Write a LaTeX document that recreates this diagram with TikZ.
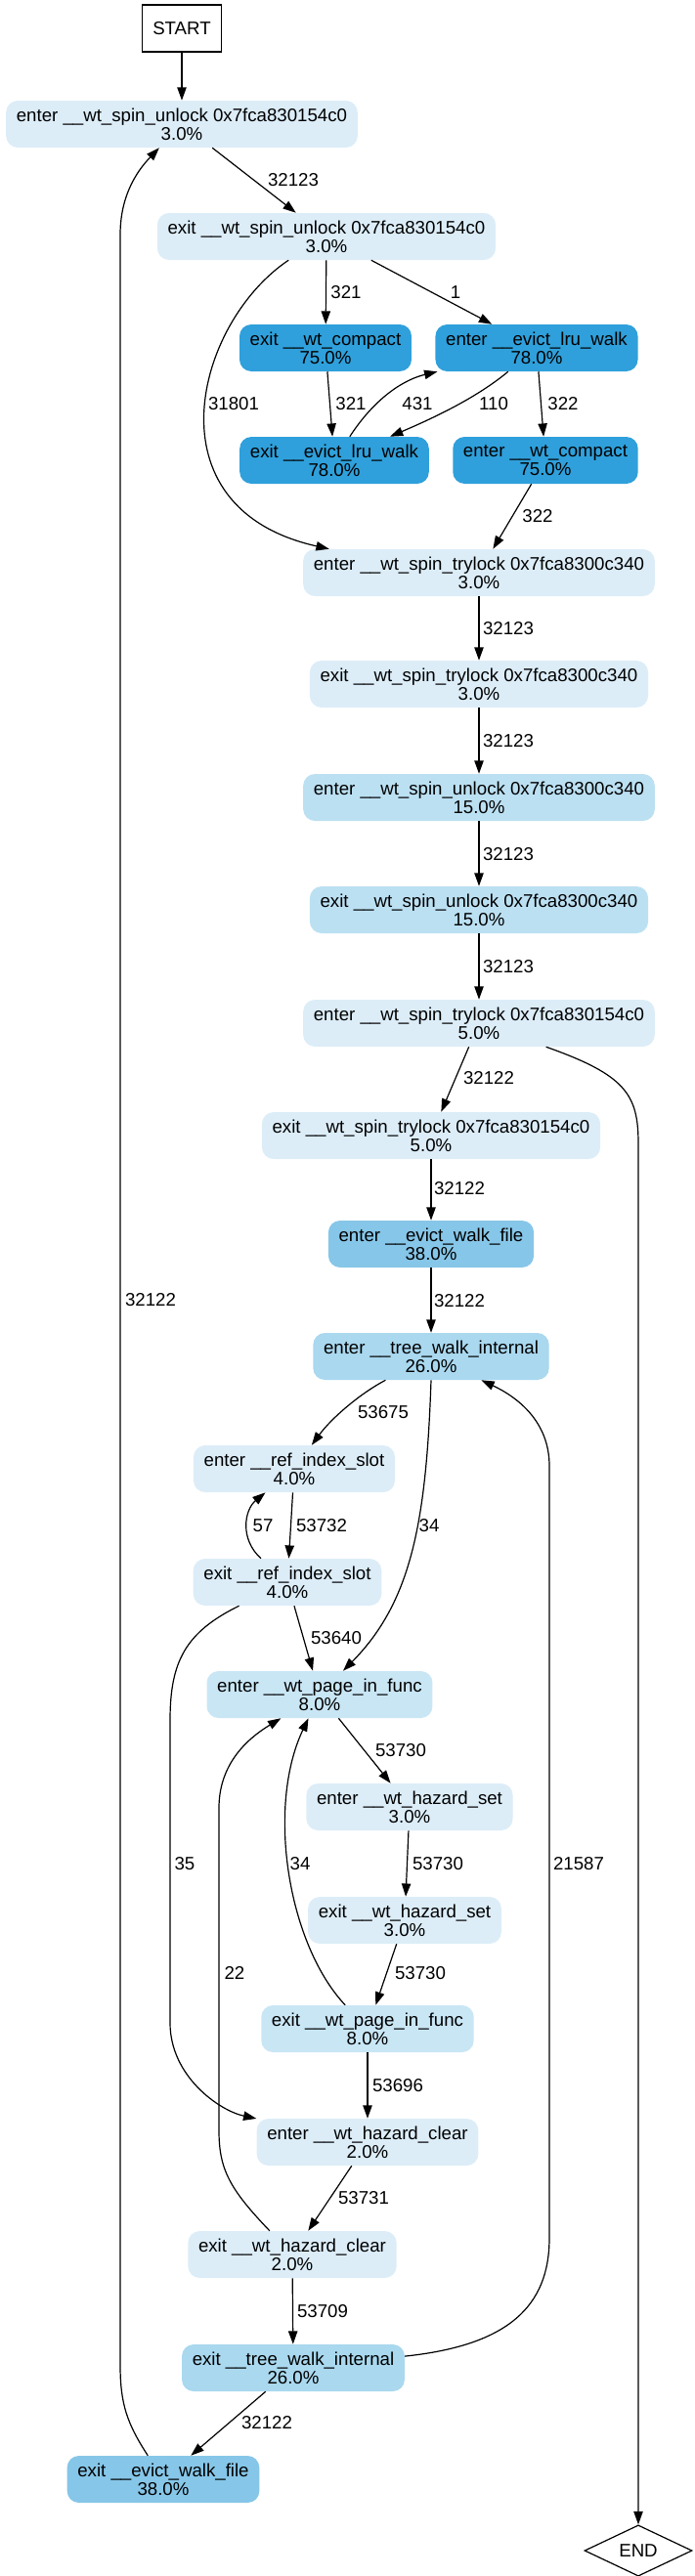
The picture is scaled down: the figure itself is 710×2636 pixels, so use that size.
\documentclass[tikz,border=0pt]{standalone}
\usepackage{fontspec}
\setmainfont{Liberation Sans}
\usetikzlibrary{arrows.meta,shapes.geometric}
\definecolor{lowheat}{HTML}{DCEDF8}
\definecolor{pageheat}{HTML}{C9E6F5}
\definecolor{lockheat}{HTML}{BBE0F2}
\definecolor{walkheat}{HTML}{A9D8EF}
\definecolor{fileheat}{HTML}{86C6E8}
\definecolor{lruheat}{HTML}{2FA0DB}
\begin{document}
\begin{tikzpicture}[x=0.75bp, y=-0.75bp,
    fnbox/.style={rounded corners=9bp, inner xsep=8bp, inner ysep=2bp, minimum height=36bp, align=center, font=\fontsize{14bp}{14bp}\selectfont},
    flow/.style={-{Triangle[length=10bp,width=7bp]}, line width=0.9bp},
    lbl/.style={inner sep=0pt, font=\fontsize{14bp}{14bp}\selectfont}]
    \useasboundingbox (0,0) rectangle (710,2636);
    \node[draw, line width=0.9bp, minimum width=60.75bp, minimum height=36bp, font=\fontsize{14bp}{14bp}\selectfont] (start) at (186,29) {START};
    \node[fnbox, fill=lowheat] (su0) at (186,127) {enter \_\_wt\_spin\_unlock 0x7fca830154c0\\3.0\%};
    \node[fnbox, fill=lowheat] (xsu0) at (334,242) {exit \_\_wt\_spin\_unlock 0x7fca830154c0\\3.0\%};
    \node[fnbox, fill=lruheat] (xcomp) at (333,356) {exit \_\_wt\_compact\\75.0\%};
    \node[fnbox, fill=lruheat] (elru) at (549,356) {enter \_\_evict\_lru\_walk\\78.0\%};
    \node[fnbox, fill=lruheat] (xlru) at (342,471) {exit \_\_evict\_lru\_walk\\78.0\%};
    \node[fnbox, fill=lruheat] (ecomp) at (558,471) {enter \_\_wt\_compact\\75.0\%};
    \node[fnbox, fill=lowheat] (etl1) at (490,586) {enter \_\_wt\_spin\_trylock 0x7fca8300c340\\3.0\%};
    \node[fnbox, fill=lowheat] (xtl1) at (490,700) {exit \_\_wt\_spin\_trylock 0x7fca8300c340\\3.0\%};
    \node[fnbox, fill=lockheat] (esu1) at (490,816) {enter \_\_wt\_spin\_unlock 0x7fca8300c340\\15.0\%};
    \node[fnbox, fill=lockheat] (xsu1) at (490,931) {exit \_\_wt\_spin\_unlock 0x7fca8300c340\\15.0\%};
    \node[fnbox, fill=lowheat] (etl0) at (490,1047) {enter \_\_wt\_spin\_trylock 0x7fca830154c0\\5.0\%};
    \node[fnbox, fill=lowheat] (xtl0) at (441,1162) {exit \_\_wt\_spin\_trylock 0x7fca830154c0\\5.0\%};
    \node[fnbox, fill=fileheat] (ewf) at (441,1273) {enter \_\_evict\_walk\_file\\38.0\%};
    \node[fnbox, fill=walkheat] (etw) at (441,1388) {enter \_\_tree\_walk\_internal\\26.0\%};
    \node[fnbox, fill=lowheat] (eref) at (301,1503) {enter \_\_ref\_index\_slot\\4.0\%};
    \node[fnbox, fill=lowheat] (xref) at (294,1619) {exit \_\_ref\_index\_slot\\4.0\%};
    \node[fnbox, fill=pageheat] (epg) at (327,1734) {enter \_\_wt\_page\_in\_func\\8.0\%};
    \node[fnbox, fill=lowheat] (ehs) at (419,1849) {enter \_\_wt\_hazard\_set\\3.0\%};
    \node[fnbox, fill=lowheat] (xhs) at (414,1965) {exit \_\_wt\_hazard\_set\\3.0\%};
    \node[fnbox, fill=pageheat] (xpg) at (376,2076) {exit \_\_wt\_page\_in\_func\\8.0\%};
    \node[fnbox, fill=lowheat] (ehc) at (376,2192) {enter \_\_wt\_hazard\_clear\\2.0\%};
    \node[fnbox, fill=lowheat] (xhc) at (299,2307) {exit \_\_wt\_hazard\_clear\\2.0\%};
    \node[fnbox, fill=walkheat] (xtw) at (300,2423) {exit \_\_tree\_walk\_internal\\26.0\%};
    \node[fnbox, fill=fileheat] (xwf) at (167,2537) {exit \_\_evict\_walk\_file\\38.0\%};
    \node[draw, diamond, line width=0.9bp, inner sep=0pt, minimum width=82.5bp, minimum height=36bp, font=\fontsize{14bp}{14bp}\selectfont] (fin) at (653,2610) {END};
    \draw[flow] (start) -- (su0);
    \draw[flow] (su0) -- (xsu0) node[lbl] at (300,184) {32123};
    \draw[flow] (xsu0) -- (xcomp) node[lbl] at (354,299) {321};
    \draw[flow] (xsu0) -- (elru) node[lbl] at (466,299) {1};
    \draw[flow] (xsu0.212) .. controls (200,330) and (150,520) .. (etl1.171) node[lbl] at (239,413) {31801};
    \draw[flow] (xcomp) -- (xlru) node[lbl] at (359,413) {321};
    \draw[flow] (xlru) .. controls (385,405) and (415,388) .. (elru) node[lbl] at (427,413) {431};
    \draw[flow] (elru) .. controls (490,405) and (450,425) .. (xlru) node[lbl] at (505,413) {110};
    \draw[flow] (elru) -- (ecomp) node[lbl] at (576,413) {322};
    \draw[flow] (ecomp) -- (etl1) node[lbl] at (550,528) {322};
    \draw[flow] (etl1) -- (xtl1) node[lbl] at (520,643) {32123};
    \draw[flow] (xtl1) -- (esu1) node[lbl] at (520,758) {32123};
    \draw[flow] (esu1) -- (xsu1) node[lbl] at (520,874) {32123};
    \draw[flow] (xsu1) -- (etl0) node[lbl] at (520,989) {32123};
    \draw[flow] (etl0) -- (xtl0) node[lbl] at (500,1103) {32122};
    \draw[flow] (etl0) .. controls (640,1100) and (653,1120) .. (653,1170) -- (fin);
    \draw[flow] (xtl0) -- (ewf) node[lbl] at (470,1216) {32122};
    \draw[flow] (ewf) -- (etw) node[lbl] at (470,1331) {32122};
    \draw[flow] (etw) .. controls (370,1425) and (340,1450) .. (eref) node[lbl] at (392,1445) {53675};
    \draw[flow] (etw.south) .. controls (436,1560) and (420,1640) .. (epg) node[lbl] at (439,1561) {34};
    \draw[flow] (eref) -- (xref) node[lbl] at (329,1561) {53732};
    \draw[flow] (xref) .. controls (245,1575) and (250,1545) .. (eref) node[lbl] at (269,1561) {57};
    \draw[flow] (xref) -- (epg) node[lbl] at (344,1676) {53640};
    \draw[flow] (xref) .. controls (190,1670) and (174,1700) .. (174,1760) -- (174,2070) .. controls (174,2125) and (225,2160) .. (ehc) node[lbl] at (189,1907) {35};
    \draw[flow] (epg) -- (ehs) node[lbl] at (410,1791) {53730};
    \draw[flow] (ehs) -- (xhs) node[lbl] at (448,1907) {53730};
    \draw[flow] (xhs) -- (xpg) node[lbl] at (430,2019) {53730};
    \draw[flow] (xpg) .. controls (295,1990) and (272,1850) .. (epg) node[lbl] at (307,1907) {34};
    \draw[flow] (xpg) -- (ehc) node[lbl] at (407,2134) {53696};
    \draw[flow] (ehc) -- (xhc) node[lbl] at (372,2249) {53731};
    \draw[flow] (xhc) .. controls (235,2240) and (224,2220) .. (224,2180) -- (224,1850) .. controls (224,1800) and (260,1775) .. (epg) node[lbl] at (240,2019) {22};
    \draw[flow] (xhc) -- (xtw) node[lbl] at (330,2365) {53709};
    \draw[flow] (xtw) -- (xwf) node[lbl] at (273,2479) {32122};
    \draw[flow] (xtw) .. controls (520,2400) and (562,2360) .. (562,2290) -- (562,1500) .. controls (562,1455) and (530,1430) .. (etw) node[lbl] at (592,1907) {21587};
    \draw[flow] (xwf) .. controls (130,2480) and (123,2460) .. (123,2420) -- (123,240) .. controls (123,195) and (145,170) .. (su0) node[lbl] at (154,1330) {32122};
\end{tikzpicture}
\end{document}
